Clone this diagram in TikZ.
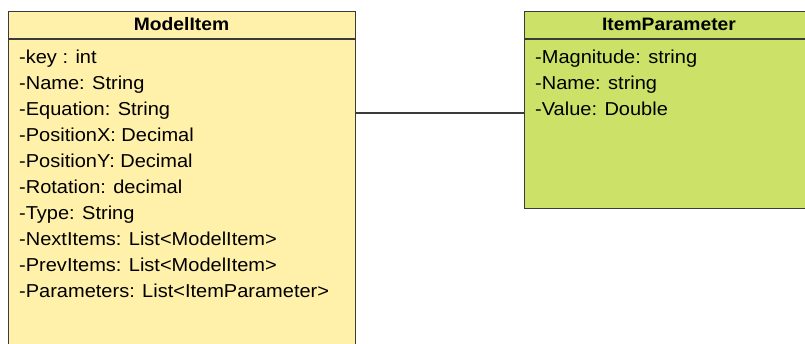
\documentclass[tikz,border=0pt]{standalone}
\usepackage{fontspec}
\setmainfont[FakeStretch=1.07]{Liberation Sans}
\definecolor{yfill}{HTML}{FFF0AA}
\definecolor{gfill}{HTML}{CCE167}
\definecolor{edge}{HTML}{3A3A3A}
\begin{document}
\begin{tikzpicture}[x=1pt,y=-1pt,
  classbox/.style={draw=edge,line width=1.3pt,inner sep=0pt},
  attr/.style={anchor=base west,inner sep=0pt,font=\fontsize{18.7}{21}\selectfont},
  title/.style={anchor=base,inner sep=0pt,font=\bfseries\fontsize{18}{21}\selectfont},
  link/.style={draw=edge,line width=1.3pt}]
\clip (0,0) rectangle (805,343);
\fill[white] (0,0) rectangle (805,343);
% boxes
\node[classbox,fill=yfill,minimum width=347pt,minimum height=345pt,anchor=north west] (model) at (8,11) {};
\node[classbox,fill=gfill,minimum width=291pt,minimum height=197pt,anchor=north west] (param) at (523.5,11) {};
\draw[edge,line width=1.3pt] (8,39) -- (355,39);
\draw[edge,line width=1.3pt] (523.5,39) -- (814.5,39);
% titles
\node[title] (mt) at (181.5,30) {ModelItem};
\node[title] (pt) at (669,30) {ItemParameter};
% attributes
\foreach \t [count=\i] in {{-key : int},{-Name: String},{-Equation: String},{-PositionX: Decimal},{-PositionY: Decimal},{-Rotation: decimal},{-Type: String},{-NextItems: List<ModelItem>},{-PrevItems: List<ModelItem>},{-Parameters: List<ItemParameter>}}
  \node[attr] (ma\i) at (19,{63+26*(\i-1)}) {\t};
\foreach \t [count=\i] in {{-Magnitude: string},{-Name: string},{-Value: Double}}
  \node[attr] (pa\i) at (535,{63+26*(\i-1)}) {\t};
% connector
\coordinate (c) at (0,113);
\draw[link] (model.east |- c) -- (param.west |- c);
\end{tikzpicture}
\end{document}
